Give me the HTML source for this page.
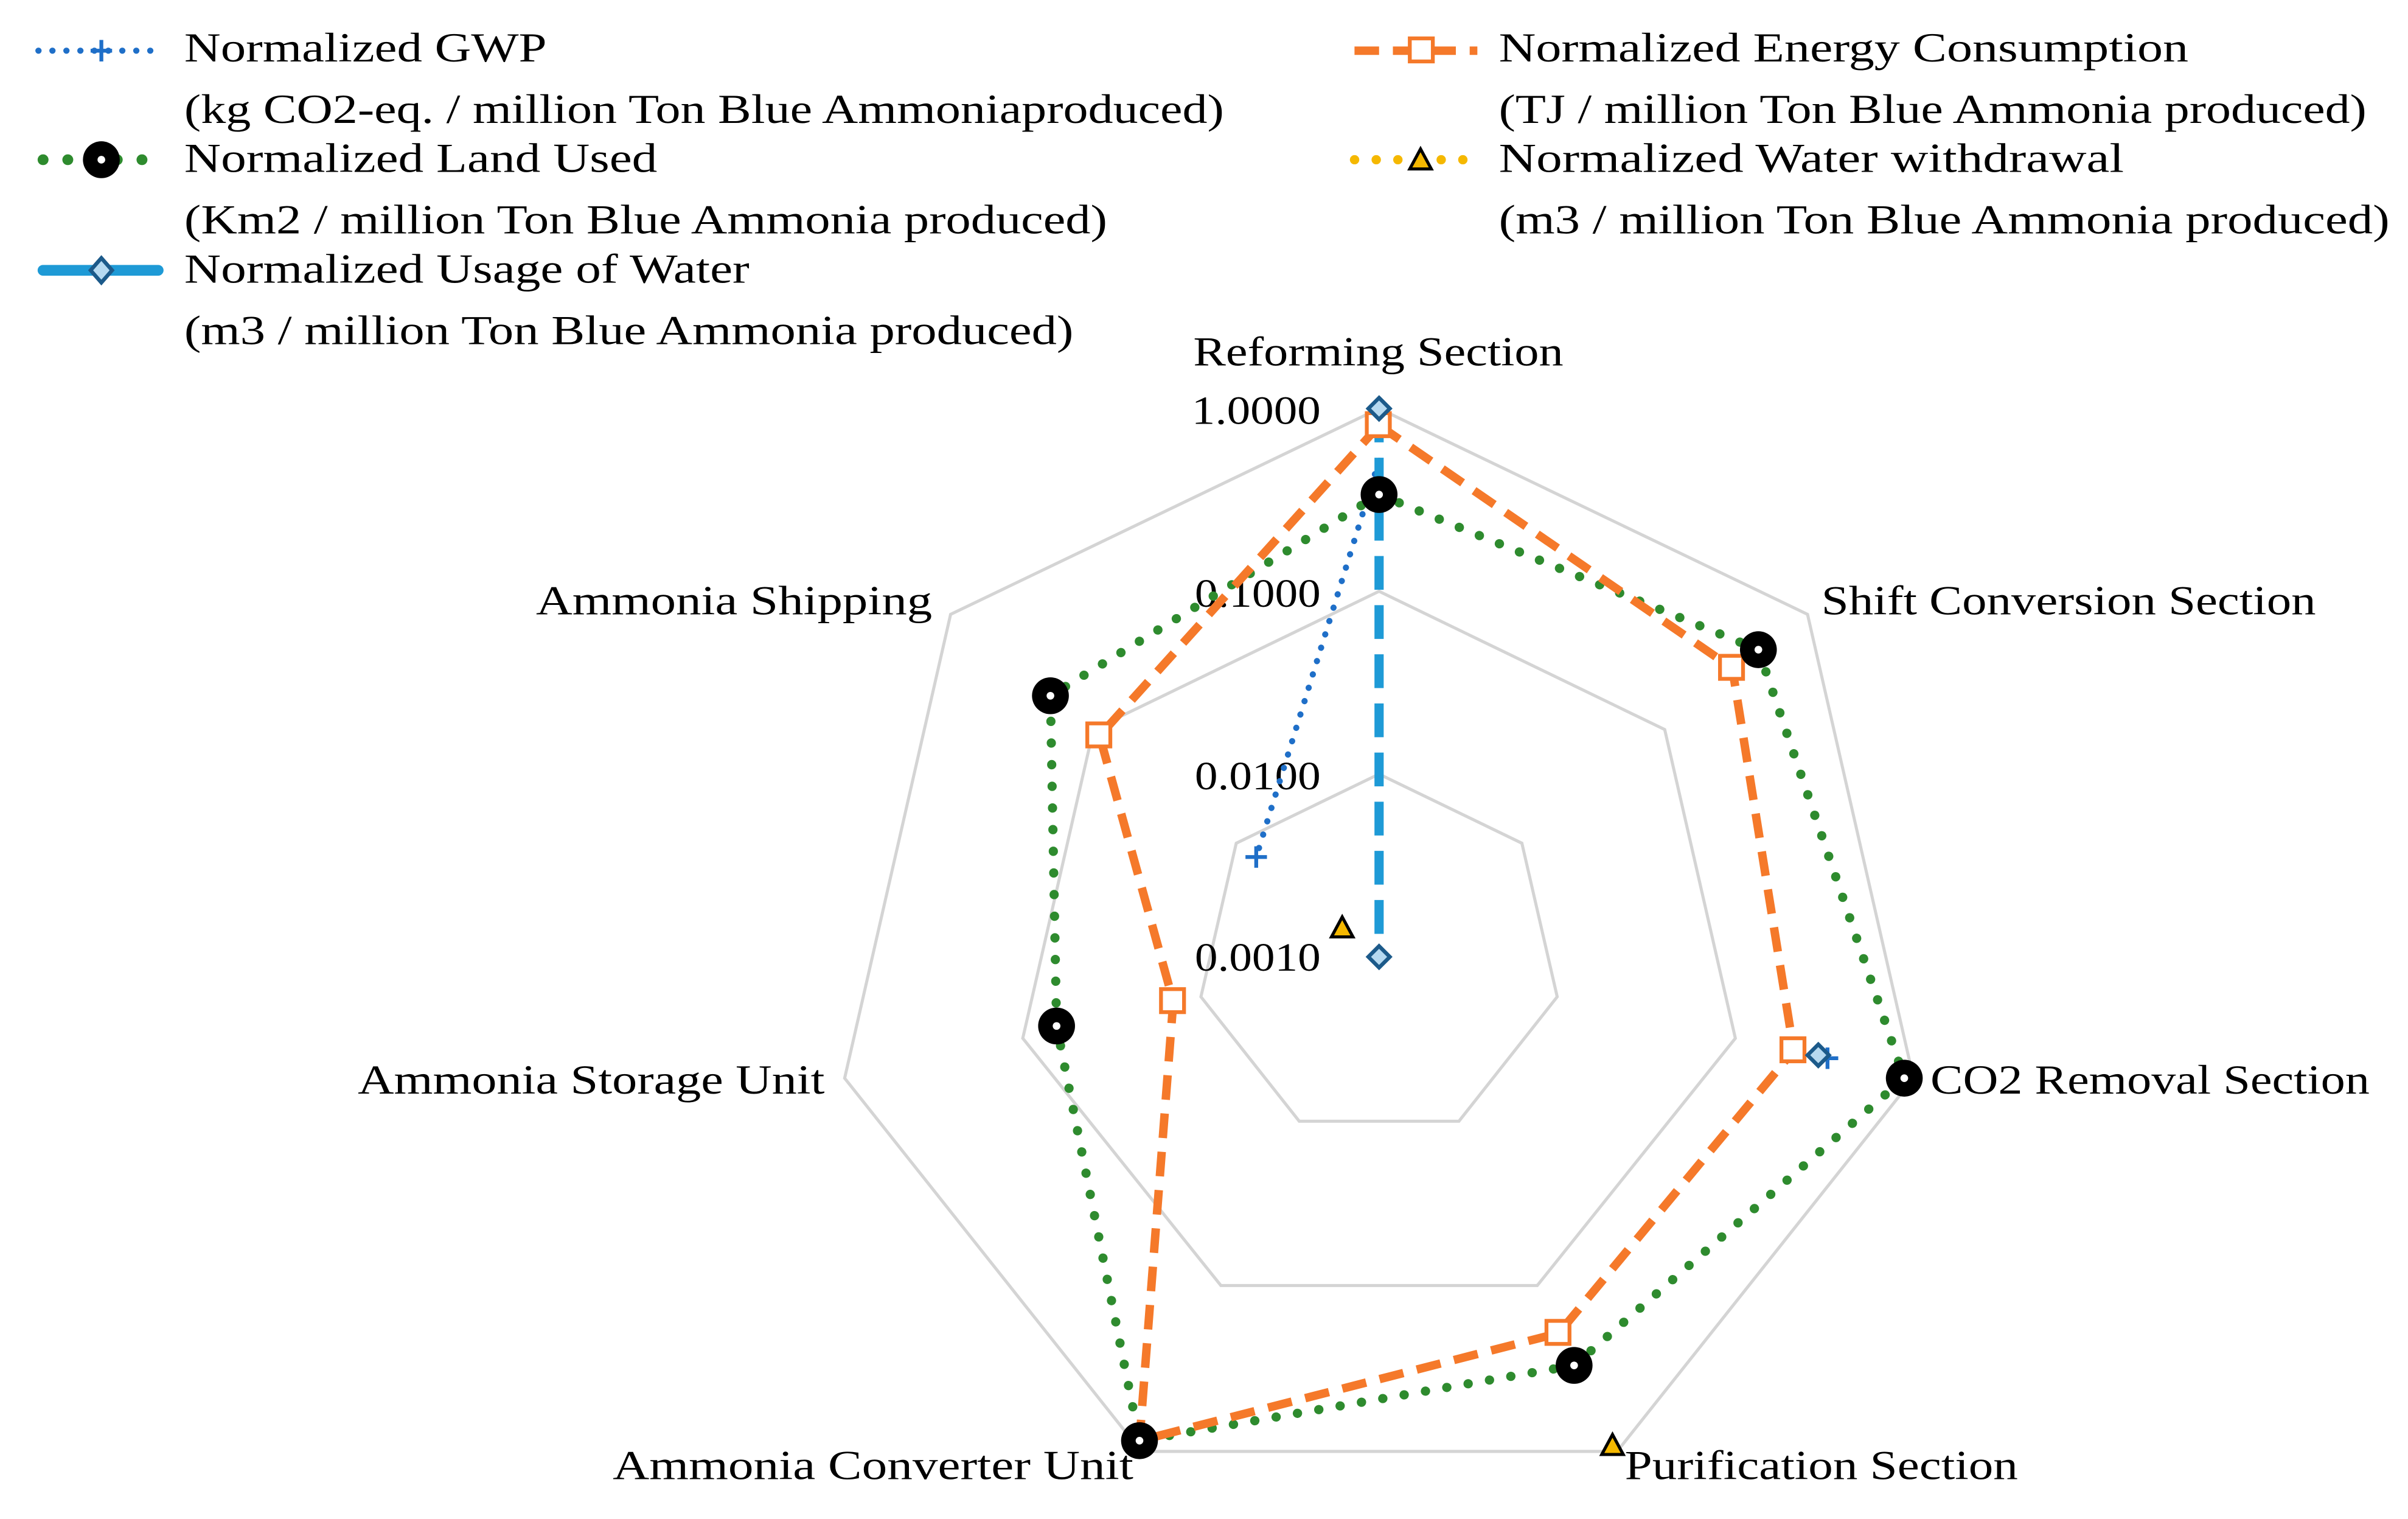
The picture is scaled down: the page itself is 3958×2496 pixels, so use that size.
<!DOCTYPE html>
<html><head><meta charset="utf-8"><style>
html,body{margin:0;padding:0;background:#fff;}
svg{display:block;}
text{font-family:"Liberation Serif",serif;fill:#000;}
</style></head><body>
<svg width="3958" height="2496" viewBox="0 0 1568 989" preserveAspectRatio="none" xmlns="http://www.w3.org/2000/svg">
<rect width="1568" height="989" fill="#fff"/>
<g fill="none" stroke="#d4d4d4" stroke-width="2">
<polygon points="898,266 1177,400 1246,702 1053,945 743,945 550,702 619,400"/>
<polygon points="898,385 1084,475 1130,676 1001,837 795,837 666,676 712,475"/>
<polygon points="898,504 991,549 1014,649 950,730 846,730 782,649 805,549"/>
</g>
<g font-size="26">
<text x="776" y="276" textLength="84" lengthAdjust="spacingAndGlyphs">1.0000</text>
<text x="778" y="395" textLength="82" lengthAdjust="spacingAndGlyphs">0.1000</text>
<text x="778" y="514" textLength="82" lengthAdjust="spacingAndGlyphs">0.0100</text>
<text x="778" y="632" textLength="82" lengthAdjust="spacingAndGlyphs">0.0010</text>
</g>
<g font-size="27">
<text x="777" y="238" textLength="241" lengthAdjust="spacingAndGlyphs">Reforming Section</text>
<text x="1186" y="400" textLength="322" lengthAdjust="spacingAndGlyphs">Shift Conversion Section</text>
<text x="1257" y="712" textLength="286" lengthAdjust="spacingAndGlyphs">CO2 Removal Section</text>
<text x="1058" y="963" textLength="256" lengthAdjust="spacingAndGlyphs">Purification Section</text>
<text x="399" y="963" textLength="339" lengthAdjust="spacingAndGlyphs">Ammonia Converter Unit</text>
<text x="233" y="712" textLength="304" lengthAdjust="spacingAndGlyphs">Ammonia Storage Unit</text>
<text x="349" y="400" textLength="258" lengthAdjust="spacingAndGlyphs">Ammonia Shipping</text>
</g>
<polygon points="898,322 1145,423 1240,702 1025,889 742,938 688,668 684,453" fill="none" stroke="#2e8b2e" stroke-width="6" stroke-dasharray="0.1 14" stroke-linecap="round"/>
<polygon points="898,277 1128,435 1168,684 1015,868 742,938 764,652 716,479" fill="none" stroke="#f5792a" stroke-width="5.5" stroke-dasharray="16 9"/>
<polyline points="898,300 818,558" fill="none" stroke="#1f6fc8" stroke-width="4" stroke-dasharray="0.1 9" stroke-linecap="round"/>
<line x1="898" y1="266" x2="898" y2="623" stroke="#1e9ad6" stroke-width="6" stroke-dasharray="22 10"/>
<g fill="#fff" stroke="#f5792a" stroke-width="2.5">
<rect x="890" y="269" width="15" height="15"/><rect x="1120" y="427" width="15" height="15"/>
<rect x="1160" y="676" width="15" height="15"/><rect x="1007" y="860" width="15" height="15"/>
<rect x="756" y="644" width="15" height="15"/><rect x="708" y="471" width="15" height="15"/>
</g>
<g fill="#000">
<circle cx="898" cy="322" r="12"/><circle cx="1145" cy="423" r="12"/><circle cx="1240" cy="702" r="12"/>
<circle cx="1025" cy="889" r="12"/><circle cx="742" cy="938" r="12"/><circle cx="688" cy="668" r="12"/><circle cx="684" cy="453" r="12"/>
</g>
<g fill="#fff">
<circle cx="898" cy="322" r="2.5"/><circle cx="1145" cy="423" r="2.5"/><circle cx="1240" cy="702" r="2.5"/>
<circle cx="1025" cy="889" r="2.5"/><circle cx="742" cy="938" r="2.5"/><circle cx="688" cy="668" r="2.5"/><circle cx="684" cy="453" r="2.5"/>
</g>
<g stroke="#1f6fc8" stroke-width="2.5">
<path d="M811,558h14M818,551v14"/><path d="M1183,689h14M1190,682v14"/>
</g>
<g fill="#b6d9f0" stroke="#1c5a8a" stroke-width="2.5">
<polygon points="898,259 905,266 898,273 891,266"/>
<polygon points="898,616 905,623 898,630 891,623"/>
<polygon points="1184,680 1191,687 1184,694 1177,687"/>
</g>
<g fill="#f5b800" stroke="#000" stroke-width="2">
<polygon points="874,597 881,610 867,610"/>
<polygon points="1050,934 1057,947 1043,947"/>
</g>
<g font-size="27">
<text x="120" y="40" textLength="236" lengthAdjust="spacingAndGlyphs">Normalized GWP</text>
<text x="120" y="80" textLength="677" lengthAdjust="spacingAndGlyphs">(kg CO2-eq. / million Ton Blue Ammoniaproduced)</text>
<text x="120" y="112" textLength="308" lengthAdjust="spacingAndGlyphs">Normalized Land Used</text>
<text x="120" y="152" textLength="601" lengthAdjust="spacingAndGlyphs">(Km2 / million Ton Blue Ammonia produced)</text>
<text x="120" y="184" textLength="368" lengthAdjust="spacingAndGlyphs">Normalized Usage of Water</text>
<text x="120" y="224" textLength="579" lengthAdjust="spacingAndGlyphs">(m3 / million Ton Blue Ammonia produced)</text>
<text x="976" y="40" textLength="449" lengthAdjust="spacingAndGlyphs">Normalized Energy Consumption</text>
<text x="976" y="80" textLength="565" lengthAdjust="spacingAndGlyphs">(TJ / million Ton Blue Ammonia produced)</text>
<text x="976" y="112" textLength="407" lengthAdjust="spacingAndGlyphs">Normalized Water withdrawal</text>
<text x="976" y="152" textLength="580" lengthAdjust="spacingAndGlyphs">(m3 / million Ton Blue Ammonia produced)</text>
</g>
<line x1="25" y1="33" x2="105" y2="33" stroke="#1f6fc8" stroke-width="4" stroke-dasharray="0.1 9" stroke-linecap="round"/>
<path d="M59,33h14M66,26v14" stroke="#1f6fc8" stroke-width="2.5"/>
<line x1="28" y1="104" x2="105" y2="104" stroke="#2e8b2e" stroke-width="7" stroke-dasharray="0.1 16" stroke-linecap="round"/>
<circle cx="66" cy="104" r="12"/><circle cx="66" cy="104" r="2.5" fill="#fff"/>
<line x1="28" y1="176" x2="103" y2="176" stroke="#1e9ad6" stroke-width="7" stroke-linecap="round"/>
<polygon points="66,168 73,176 66,184 59,176" fill="#b6d9f0" stroke="#1c5a8a" stroke-width="2.5"/>
<line x1="882" y1="33" x2="962" y2="33" stroke="#f5792a" stroke-width="5.5" stroke-dasharray="16 9"/>
<rect x="918" y="25" width="15" height="15" fill="#fff" stroke="#f5792a" stroke-width="2.5"/>
<line x1="882" y1="104" x2="962" y2="104" stroke="#f5b800" stroke-width="6" stroke-dasharray="0.1 14" stroke-linecap="round"/>
<polygon points="925,97 932,110 918,110" fill="#f5b800" stroke="#000" stroke-width="2"/>
</svg>
</body></html>
